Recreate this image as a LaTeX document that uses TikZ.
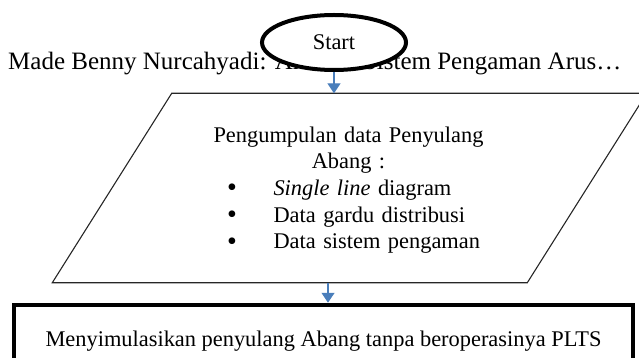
\documentclass[tikz,border=0pt]{standalone}
\usepackage{fontspec}
\setmainfont{Liberation Serif}
\usetikzlibrary{arrows.meta,shapes.geometric}
\definecolor{flowblue}{RGB}{74,126,187}
\newcommand{\flowfont}{\fontsize{22.4pt}{26.7pt}\selectfont}
\newcommand{\hdrfont}{\fontsize{25pt}{30pt}\selectfont}
\newcommand{\flowbullet}{\raisebox{-1.2pt}{\fontsize{28pt}{28pt}\selectfont\textbullet}}
\newcommand{\flowitem}[1]{\hspace*{18.6pt}\makebox[46.4pt][l]{\flowbullet}#1\par}
\setlength{\parindent}{0pt}
\setlength{\parskip}{0pt}

\begin{document}
\begin{tikzpicture}[x=1pt,y=-1pt,
  terminal/.style={ellipse, draw=black, line width=4pt, fill=white,
    minimum width=144pt, minimum height=55pt, inner sep=0pt, font=\flowfont},
  iobox/.style={draw=black!85, line width=1.1pt},
  procbox/.style={rectangle, draw=black, line width=4.5pt,
    minimum width=619pt, minimum height=73pt, inner sep=0pt, font=\flowfont},
  flowarrow/.style={draw=flowblue, line width=1.3pt,
    -{Triangle[width=13pt,length=10pt]}}
]
\useasboundingbox (0,0) rectangle (639,358);
\clip (0,0) rectangle (639,358);

% running header of the page
\node[anchor=base west, inner sep=0pt, font=\hdrfont] (hdr) at (8,70)
  {Made Benny Nurcahyadi: Analisis Sistem Pengaman Arus…};

% start terminal
\node[terminal] (start) at (334,42.5) {Start};

% data input parallelogram
\coordinate (pTL) at (171.7,93.3);
\coordinate (pTR) at (646.7,93.3);
\coordinate (pBR) at (527.3,282.7);
\coordinate (pBL) at (52.3,282.7);
\draw[iobox] (pTL) -- (pTR) -- (pBR) -- (pBL) -- cycle;

\node[anchor=north west, inner sep=0pt, text width=280pt, font=\flowfont]
  (input) at (208.3,126.4) {%
  {\centering Pengumpulan data Penyulang\par Abang :\par}
  \raggedright
  \flowitem{\textit{Single line} diagram}
  \flowitem{Data gardu distribusi}
  \flowitem{Data sistem pengaman}};

\coordinate (inBot) at (328,282.7);

% simulation process box
\node[procbox] (sim) at (323.5,341.5)
  {Menyimulasikan penyulang Abang tanpa beroperasinya PLTS};

% connectors
\draw[flowarrow] (start.south) -- (start.south |- pTL);
\draw[flowarrow] (inBot) -- (inBot |- sim.north);
\end{tikzpicture}
\end{document}
